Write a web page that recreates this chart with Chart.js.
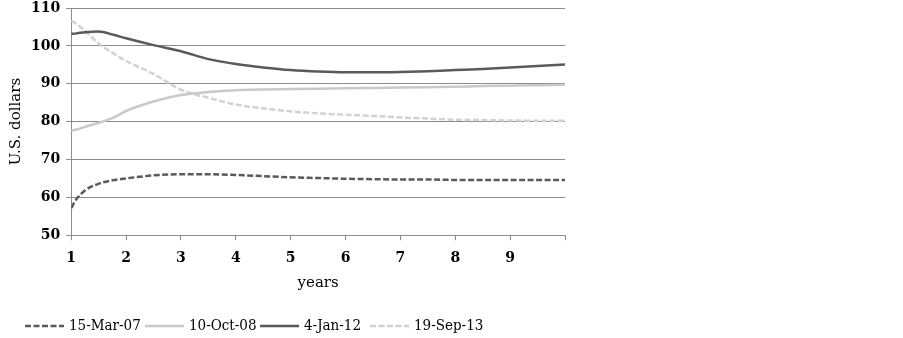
<!DOCTYPE html>
<html>
<head>
<meta charset="utf-8">
<script src="https://cdn.jsdelivr.net/npm/chart.js@4"></script>
<style>
  html, body { margin: 0; padding: 0; background: #fff; }
  #wrap { position: relative; width: 903px; height: 338px; }
  #legend { position: absolute; left: 0; top: 316px; width: 903px; height: 20px; font: 15px "DejaVu Serif Condensed", "DejaVu Serif", serif; color: #000; white-space: nowrap; }
  #legend .item { position: absolute; top: 0; }
  #legend svg { vertical-align: middle; margin-right: 5px; }
</style>
</head>
<body>
<div id="wrap">
  <canvas id="myChart" width="903" height="338"></canvas>
  <div id="legend"></div>
</div>
<script>
// DATA
const years = [1, 1.1, 1.25, 1.5, 1.75, 2, 2.5, 3, 3.5, 4, 4.5, 5, 5.5, 6, 6.5, 7, 7.5, 8, 8.5, 9, 9.5, 10];
const seriesNames = ["15-Mar-07", "10-Oct-08", "4-Jan-12", "19-Sep-13"];
const mar07 = [57.2, 59.6, 61.8, 63.6, 64.5, 65.0, 65.8, 66.1, 66.1, 65.9, 65.6, 65.3, 65.1, 64.9, 64.8, 64.7, 64.7, 64.6, 64.6, 64.6, 64.6, 64.6];
const oct08 = [77.6, 77.9, 78.6, 79.7, 80.9, 82.8, 85.3, 87.0, 87.8, 88.3, 88.5, 88.6, 88.7, 88.8, 88.9, 89.0, 89.1, 89.2, 89.4, 89.5, 89.6, 89.7];
const jan12 = [103.2, 103.3, 103.6, 103.8, 103.0, 102.0, 100.2, 98.6, 96.5, 95.2, 94.3, 93.6, 93.2, 93.0, 93.0, 93.1, 93.3, 93.6, 93.9, 94.3, 94.7, 95.1];
const sep13 = [106.6, 105.8, 104.0, 100.6, 98.2, 96.0, 92.6, 88.4, 86.3, 84.5, 83.5, 82.7, 82.2, 81.8, 81.5, 81.1, 80.8, 80.5, 80.4, 80.3, 80.2, 80.2];
const xTicks = [1, 2, 3, 4, 5, 6, 7, 8, 9];

const FONT = "DejaVu Serif";
const DARK = "#5a5a5a";
const LIGHT = "#c9c9c9";
const LIGHT_DASH = "#d2d2d2";
const GRID = "#8c8c8c";

function pts(vals) {
    return vals.map(function (v, i) { return { x: years[i], y: v }; });
}

const styles = [
    { color: DARK, width: 2.5, dash: [6, 2.5] },
    { color: LIGHT, width: 2.5, dash: [] },
    { color: DARK, width: 2.5, dash: [] },
    { color: LIGHT_DASH, width: 2.5, dash: [6, 2.5] },
];
const allVals = [mar07, oct08, jan12, sep13];
// legend item left edges (px)
const legendX = [25, 145, 260, 370];

const ctx = document.getElementById("myChart").getContext("2d");
const myChart = new Chart(ctx, {
    type: "line",
    data: {
        datasets: allVals.map(function (vals, i) {
            return {
                label: seriesNames[i],
                data: pts(vals),
                borderColor: styles[i].color,
                borderWidth: styles[i].width,
                borderDash: styles[i].dash,
                pointRadius: 0,
                cubicInterpolationMode: "monotone",
                fill: false,
            };
        }),
    },
    options: {
        responsive: false,
        animation: false,
        layout: { padding: { left: 7, right: 338, top: 8, bottom: 46 } },
        plugins: { legend: { display: false }, tooltip: { enabled: false } },
        scales: {
            x: {
                type: "linear",
                min: 1,
                max: 10,
                afterBuildTicks: function (scale) {
                    scale.ticks = xTicks.concat([10]).map(function (v) { return { value: v }; });
                },
                ticks: {
                    color: "#000",
                    font: { family: FONT, size: 14, weight: "bold" },
                    maxRotation: 0,
                    padding: 10,
                    callback: function (v) { return v === 10 ? "" : v; },
                },
                grid: { drawOnChartArea: false, drawTicks: true, tickLength: 5, color: GRID },
                border: { color: GRID, width: 1 },
                title: { display: true, text: "years", color: "#000", font: { family: FONT, size: 15 }, padding: { top: -3, bottom: 0 } },
            },
            y: {
                min: 50,
                max: 110,
                afterFit: function (scale) {
                    scale.paddingTop = 0;
                    scale.paddingBottom = 0;
                },
                ticks: { stepSize: 10, color: "#000", font: { family: FONT, size: 14, weight: "bold" }, padding: 6 },
                grid: { color: GRID, tickLength: 5 },
                border: { color: GRID, width: 1 },
                title: { display: true, text: "U.S. dollars", color: "#000", font: { family: FONT, size: 15 }, padding: 0 },
            },
        },
    },
});

// HTML LEGEND
const legend = document.getElementById("legend");
seriesNames.forEach(function (name, i) {
    const s = styles[i];
    const item = document.createElement("span");
    item.className = "item";
    item.style.left = legendX[i] + "px";
    item.innerHTML =
        '<svg width="39" height="6"><line x1="0" y1="3" x2="39" y2="3" stroke="' + s.color +
        '" stroke-width="' + s.width + '" stroke-dasharray="' + (s.dash.length ? s.dash.join(",") : "none") +
        '"/></svg>' + name;
    legend.appendChild(item);
});
</script>
</body>
</html>
